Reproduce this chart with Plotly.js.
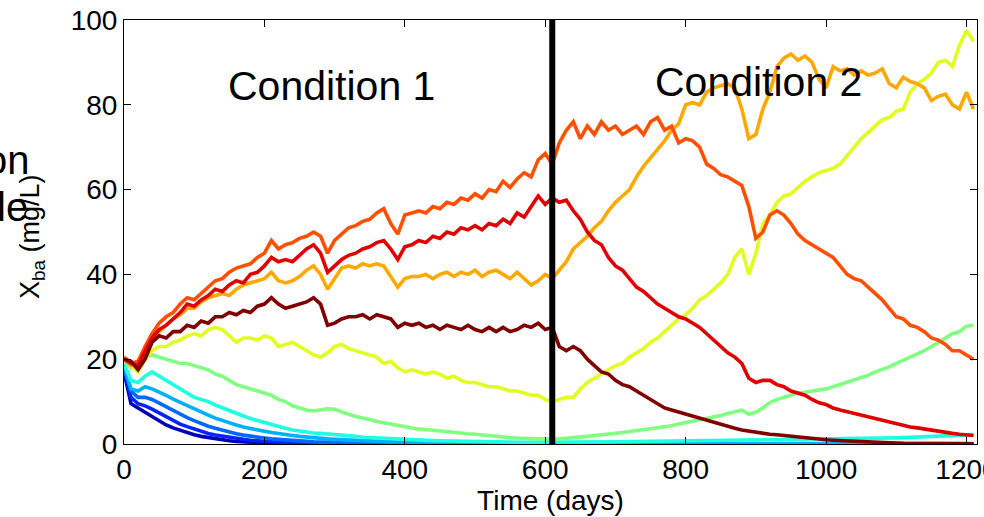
<!DOCTYPE html>
<html>
<head>
<meta charset="utf-8">
<script src="https://cdn.plot.ly/plotly-3.0.1.min.js"></script>
<style>html,body{margin:0;padding:0;background:#fff;}#chart{width:984px;height:517px;}</style>
</head>
<body>
<div id="chart"></div>
<script>
// time grid (days): 0,10,...,1210
const days = Array.from({length: 122}, (_, i) => i * 10);

const xTicks = [0, 200, 400, 600, 800, 1000, 1200];
const yTicks = [0, 20, 40, 60, 80, 100];
const switchDay = [610, 610];
const switchSpan = [0, 100];

const seriesColors = ['#0000b4', '#0024ff', '#0068ff', '#00b0ff', '#20ffe0',
                      '#80ff80', '#e0ff20', '#ffa800', '#ff5000', '#e00000', '#800000'];

const s1 = [17, 9.5, 8.5, 7.5, 6.3, 5.4, 4.5, 3.8, 3.2, 2.7,
  2.2, 1.8, 1.5, 1.2, 0.95, 0.75, 0.6, 0.48, 0.38, 0.3,
  0.24, 0.19, 0.15, 0.12, 0.1, 0.08, 0.06, 0.05, 0.04, 0.03,
  0.02, 0.02, 0.02, 0.01, 0.01, 0.01, 0.01, 0.01, 0, 0,
  0, 0, 0, 0, 0, 0, 0, 0, 0, 0,
  0, 0, 0, 0, 0, 0, 0, 0, 0, 0,
  0, 0, 0, 0, 0, 0, 0, 0, 0, 0,
  0, 0, 0, 0, 0, 0, 0, 0, 0, 0,
  0, 0, 0, 0, 0, 0, 0, 0, 0, 0,
  0, 0, 0, 0, 0, 0, 0, 0, 0, 0,
  0, 0, 0, 0, 0, 0, 0, 0, 0, 0,
  0, 0, 0, 0, 0, 0, 0, 0, 0, 0,
  0, 0];

const s2 = [17.5, 11, 9.5, 9, 8.2, 7.3, 6.3, 5.4, 4.7, 4.1,
  3.5, 3, 2.5, 2.1, 1.8, 1.5, 1.3, 1.1, 0.9, 0.75,
  0.62, 0.52, 0.43, 0.36, 0.3, 0.25, 0.21, 0.17, 0.14, 0.12,
  0.1, 0.08, 0.07, 0.06, 0.05, 0.04, 0.03, 0.03, 0.02, 0.02,
  0.02, 0.01, 0.01, 0.01, 0.01, 0, 0, 0, 0, 0,
  0, 0, 0, 0, 0, 0, 0, 0, 0, 0,
  0, 0, 0, 0, 0, 0, 0, 0, 0, 0,
  0, 0, 0, 0, 0, 0, 0, 0, 0, 0,
  0, 0, 0, 0, 0, 0, 0, 0, 0, 0,
  0, 0, 0, 0, 0, 0, 0, 0, 0, 0,
  0, 0, 0, 0, 0, 0, 0, 0, 0, 0,
  0, 0, 0, 0, 0, 0, 0, 0, 0, 0,
  0, 0];

const s3 = [18, 12.5, 11, 11, 10.5, 9.6, 8.7, 7.8, 7, 6.2,
  5.5, 4.8, 4.2, 3.7, 3.2, 2.8, 2.4, 2.1, 1.8, 1.6,
  1.4, 1.2, 1.05, 0.9, 0.8, 0.7, 0.6, 0.5, 0.45, 0.4,
  0.35, 0.3, 0.26, 0.22, 0.2, 0.17, 0.15, 0.13, 0.11, 0.1,
  0.09, 0.08, 0.07, 0.06, 0.05, 0.05, 0.04, 0.04, 0.03, 0.03,
  0.03, 0.02, 0.02, 0.02, 0.02, 0.01, 0.01, 0.01, 0.01, 0.01,
  0.01, 0.01, 0.01, 0.01, 0.01, 0.01, 0.01, 0.01, 0.01, 0.01,
  0.01, 0.01, 0.01, 0.01, 0.01, 0.01, 0.01, 0.01, 0.01, 0.01,
  0.01, 0.01, 0.01, 0.01, 0.01, 0.01, 0.01, 0.01, 0.01, 0.01,
  0.01, 0.01, 0.01, 0.01, 0.01, 0.01, 0.01, 0.01, 0.01, 0.01,
  0.01, 0.01, 0.01, 0.01, 0.01, 0.01, 0.01, 0.01, 0.01, 0.01,
  0.01, 0.01, 0.01, 0.01, 0.01, 0.01, 0.01, 0.01, 0.01, 0.01,
  0.01, 0.01];

const s4 = [18.5, 13, 12.5, 13.5, 13, 12.3, 11.5, 10.6, 9.8, 9,
  8.3, 7.5, 6.8, 6.1, 5.5, 5, 4.5, 4, 3.6, 3.3,
  3, 2.7, 2.4, 2.2, 2, 1.8, 1.6, 1.45, 1.3, 1.2,
  1.1, 1, 0.9, 0.82, 0.75, 0.68, 0.62, 0.56, 0.5, 0.46,
  0.42, 0.38, 0.35, 0.32, 0.29, 0.26, 0.24, 0.22, 0.2, 0.18,
  0.16, 0.15, 0.14, 0.13, 0.12, 0.11, 0.1, 0.1, 0.09, 0.09,
  0.08, 0.08, 0.08, 0.08, 0.08, 0.08, 0.08, 0.08, 0.08, 0.08,
  0.08, 0.08, 0.08, 0.08, 0.08, 0.08, 0.08, 0.08, 0.08, 0.08,
  0.08, 0.08, 0.08, 0.08, 0.08, 0.08, 0.08, 0.08, 0.08, 0.08,
  0.08, 0.08, 0.08, 0.08, 0.08, 0.08, 0.08, 0.08, 0.08, 0.08,
  0.08, 0.08, 0.08, 0.08, 0.08, 0.08, 0.08, 0.08, 0.08, 0.08,
  0.08, 0.08, 0.08, 0.08, 0.08, 0.08, 0.08, 0.08, 0.08, 0.08,
  0.08, 0.08];

const s5 = [19, 15, 14.5, 16, 17, 16, 15, 14, 13, 12,
  11, 10.5, 10, 9.2, 8.5, 7.8, 7.2, 6.6, 6, 5.5,
  5, 4.5, 4.1, 3.7, 3.3, 3, 2.8, 2.6, 2.5, 2.4,
  2.2, 2, 1.9, 1.8, 1.6, 1.5, 1.4, 1.3, 1.2, 1.1,
  1, 0.95, 0.9, 0.85, 0.8, 0.75, 0.7, 0.65, 0.6, 0.55,
  0.5, 0.5, 0.48, 0.46, 0.45, 0.44, 0.42, 0.41, 0.4, 0.4,
  0.4, 0.4, 0.42, 0.42, 0.44, 0.45, 0.46, 0.48, 0.5, 0.5,
  0.52, 0.54, 0.55, 0.56, 0.58, 0.6, 0.6, 0.62, 0.64, 0.65,
  0.66, 0.68, 0.7, 0.72, 0.74, 0.76, 0.78, 0.8, 0.82, 0.84,
  0.86, 0.88, 0.9, 0.92, 0.94, 0.96, 0.98, 1, 1, 1.02,
  1.05, 1.1, 1.1, 1.15, 1.2, 1.2, 1.25, 1.3, 1.35, 1.4,
  1.45, 1.5, 1.55, 1.6, 1.65, 1.7, 1.8, 1.85, 1.9, 2,
  2.1, 2.2];

const s6 = [20, 18, 19.5, 20.5, 21, 20.5, 20, 19.5, 19, 19,
  18.5, 18, 17.5, 16.5, 16, 15, 14, 13.5, 13, 12.5,
  12, 11.5, 10.5, 10, 9, 8.5, 8, 7.8, 8, 8.3,
  8.2, 7.5, 7, 6.5, 6.2, 5.8, 5.3, 5, 4.6, 4.2,
  4, 3.8, 3.5, 3.4, 3.2, 3, 2.8, 2.7, 2.6, 2.4,
  2.3, 2.1, 2, 1.8, 1.6, 1.5, 1.4, 1.3, 1.2, 1.2,
  1.1, 1.1, 1.2, 1.3, 1.5, 1.6, 1.8, 2, 2.1, 2.3,
  2.5, 2.7, 2.9, 3.1, 3.3, 3.5, 3.7, 4, 4.3, 4.7,
  5, 5.3, 5.6, 6, 6.3, 6.7, 7.2, 7.7, 8, 7,
  7.5, 8.5, 9.8, 10.5, 11, 11.5, 12, 12.2, 12.4, 12.7,
  13, 13.5, 14, 14.5, 15, 15.5, 16.2, 17, 17.5, 18.2,
  19, 19.7, 20.5, 21.3, 22, 23, 24, 25, 26, 26.5,
  27.8, 28];

const s7 = [20, 18.5, 17, 20, 22, 23, 23, 24, 24.5, 25.5,
  26, 25.5, 27, 27.5, 27, 25.5, 24, 25, 25, 24.5,
  25.5, 25, 23, 23.5, 24, 23, 22, 21, 20.5, 21.5,
  23, 23.5, 22.5, 22, 21.5, 21, 20.5, 19, 19.5, 18,
  17, 17.5, 17, 16.5, 17, 16.5, 15.5, 16, 15, 14.5,
  14.5, 14, 13.5, 13.5, 13, 12.5, 12.5, 12, 11.5, 11.5,
  10.5, 10, 10.5, 11, 11, 13, 14.5, 15.5, 16.5, 17.5,
  18.5, 19, 20.5, 21.5, 22.5, 24, 25, 26.5, 28, 29.5,
  30.5, 32, 34, 35, 36.5, 38, 40, 44, 46, 40,
  45, 52, 54, 57, 58.5, 59, 60.5, 62, 63, 64,
  64.5, 65, 66, 68, 70, 72, 73.5, 75, 76.5, 77,
  78.5, 79, 83, 85, 86, 87.5, 90, 90.5, 89, 94,
  97.5, 95];

const s8 = [20, 18.5, 19, 22, 24.5, 26.5, 28, 29.5, 30.5, 32,
  32, 33.5, 34.5, 35, 35.5, 35, 36.5, 37.5, 38, 38.5,
  39, 40.5, 38.5, 38, 38.5, 39.5, 41, 42, 40, 36.5,
  39, 41.5, 42, 41.5, 42.5, 42, 42.5, 42, 39.5, 37,
  39, 39.5, 39.5, 40, 39, 40, 40.5, 39.5, 40.5, 40,
  41, 39.5, 40.5, 41, 40, 39, 40.5, 39, 37.5, 38.5,
  40, 39, 41, 43, 46, 47.5, 49, 51, 52.5, 55,
  57, 58.5, 60, 63, 65.5, 67.5, 69.5, 71.5, 74, 75.5,
  80, 80.5, 80, 83, 84, 84.5, 85, 84, 79, 72,
  73, 79, 83, 89, 91, 92, 90.5, 91.5, 90, 86,
  84, 89, 88, 88.5, 87, 88, 87, 87.5, 88.5, 85,
  84, 86.5, 85.5, 85, 84, 81, 82, 82.5, 80, 79,
  83, 79];

const s9 = [20.5, 19, 19.5, 23, 26, 28.5, 30, 31, 33, 34.5,
  34, 35.5, 37, 38.5, 39, 40.5, 41.5, 42, 42.5, 44,
  45, 48, 46, 47, 47.5, 48.5, 49, 50, 49, 45,
  48, 49.5, 51, 51.5, 52.5, 53, 54.5, 55.5, 52, 49.5,
  54, 54.5, 55, 54.5, 56, 55.5, 57, 56.5, 58, 57.5,
  59, 58, 60, 59.5, 62, 60.5, 62.5, 64, 63, 67,
  68.5, 66, 71, 74, 76, 72, 75, 73, 76, 74,
  75, 73, 74, 75, 73, 76, 77, 74, 75, 71,
  72, 71.5, 70, 66, 65, 63.5, 63, 62, 61, 56,
  48.5, 50, 54, 55, 54, 52, 49.5, 48, 47, 46,
  45, 44, 42, 40, 39, 38.5, 37, 35.5, 34, 32,
  30, 29.5, 28, 27.5, 26.5, 25, 24.5, 23.5, 22, 22,
  21, 20];

const s10 = [20, 19, 18.5, 22, 25, 27, 28, 29.5, 31, 33,
  32.5, 34, 35, 36.5, 36, 37.5, 38.5, 38, 40, 40.5,
  42, 44, 43, 43.5, 43, 44.5, 46, 47, 45, 40.5,
  42, 43.5, 44.5, 45, 46, 46.5, 47.5, 48, 46, 43.5,
  46.5, 47, 48, 47.5, 49, 48.5, 50, 49.5, 51, 50.5,
  51.5, 50.5, 52, 51.5, 53, 52, 54.5, 53.5, 56, 58.5,
  56.5, 58, 57, 57.5, 55, 53, 50, 48, 47, 44,
  42, 41, 39, 37, 36, 34.5, 33, 32, 31, 30,
  29.5, 28.5, 27.5, 26, 24.5, 23, 21.5, 20.5, 19, 15.5,
  14.5, 15, 15, 14, 13.5, 12.5, 12, 11.5, 10.5, 9.7,
  9.3, 8.5, 8, 7.6, 7.1, 6.8, 6.4, 5.9, 5.6, 5.1,
  4.7, 4.4, 4, 3.8, 3.5, 3.2, 3, 2.8, 2.5, 2.3,
  2.1, 2];

const s11 = [20, 19.5, 17.5, 20, 24, 25.5, 25, 26.5, 26.5, 28,
  27.5, 29, 28.5, 30, 30, 31, 30.5, 31.5, 31, 32.5,
  33, 34.5, 33, 32, 32.5, 33, 33.5, 34.5, 33, 28,
  28.5, 29.5, 30, 30, 30.5, 29.5, 30.5, 30, 29.5, 27.5,
  28.5, 28, 28.5, 27.5, 28, 27, 28, 27.5, 27, 28,
  27, 26.5, 27.5, 26.5, 27.5, 26.5, 27, 28, 27.5, 28.5,
  27, 27.5, 23, 22, 23, 22, 20, 18.5, 17, 16.5,
  15, 14, 13.5, 12.5, 11.5, 10.5, 9.5, 8.5, 8, 7.5,
  7, 6.5, 6, 5.5, 5, 4.5, 4, 3.7, 3.3, 3,
  2.8, 2.5, 2.3, 2.2, 2, 1.8, 1.6, 1.5, 1.3, 1.1,
  1, 0.9, 0.8, 0.7, 0.6, 0.5, 0.4, 0.35, 0.3, 0.25,
  0.2, 0.15, 0.12, 0.1, 0.1, 0.08, 0.07, 0.06, 0.05, 0.05,
  0.04, 0.04];

const allSeries = [s1, s2, s3, s4, s5, s6, s7, s8, s9, s10, s11];

const FONT = 'Liberation Sans, Arial, Helvetica, sans-serif';

const traces = allSeries.map((ys, k) => ({
  x: days, y: ys, type: 'scatter', mode: 'lines',
  line: {color: seriesColors[k], width: 3.6},
  hoverinfo: 'skip', showlegend: false
}));
traces.push({
  x: switchDay, y: switchSpan, type: 'scatter', mode: 'lines',
  line: {color: '#000000', width: 6},
  hoverinfo: 'skip', showlegend: false, cliponaxis: false
});

const layout = {
  width: 984, height: 517,
  margin: {l: 124, r: 7, t: 20, b: 73, pad: 0},
  paper_bgcolor: '#ffffff', plot_bgcolor: '#ffffff',
  font: {family: FONT, size: 28, color: '#000'},
  showlegend: false,
  xaxis: {
    range: [0, 1215], tickvals: xTicks, ticktext: xTicks.map(String),
    ticks: 'inside', ticklen: 7, tickwidth: 1, tickcolor: '#000',
    showline: true, linecolor: '#000', linewidth: 1, mirror: 'ticks',
    showgrid: false, zeroline: false, ticklabeloverflow: 'allow',
    tickfont: {family: FONT, size: 28, color: '#000'},
    title: {text: 'Time (days)', font: {family: FONT, size: 28, color: '#000'}, standoff: 4}
  },
  yaxis: {
    range: [0, 100], tickvals: yTicks, ticktext: yTicks.map(String),
    ticks: 'inside', ticklen: 7, tickwidth: 1, tickcolor: '#000',
    showline: true, linecolor: '#000', linewidth: 1, mirror: 'ticks',
    showgrid: false, zeroline: false,
    tickfont: {family: FONT, size: 28, color: '#000'}
  },
  annotations: [
    {text: 'Condition 1', xref: 'x', yref: 'y', x: 296, y: 84.4, showarrow: false,
     font: {family: FONT, size: 41, color: '#000'}, xanchor: 'center', yanchor: 'middle'},
    {text: 'Condition 2', xref: 'x', yref: 'y', x: 904, y: 85.4, showarrow: false,
     font: {family: FONT, size: 41, color: '#000'}, xanchor: 'center', yanchor: 'middle'},
    {text: 'X<sub>ba</sub> (mg/L)', xref: 'paper', yref: 'paper', x: -0.107, y: 0.49,
     textangle: -90, showarrow: false, xanchor: 'center', yanchor: 'middle',
     font: {family: FONT, size: 27, color: '#000'}},
    {text: 'on', xref: 'paper', yref: 'paper', x: (32 - 124) / 853, y: (444 - 160) / 424,
     showarrow: false, xanchor: 'right', yanchor: 'middle',
     font: {family: FONT, size: 40, color: '#000'}},
    {text: 'le', xref: 'paper', yref: 'paper', x: (30 - 124) / 853, y: (444 - 207) / 424,
     showarrow: false, xanchor: 'right', yanchor: 'middle',
     font: {family: FONT, size: 40, color: '#000'}}
  ]
};

Plotly.newPlot('chart', traces, layout, {staticPlot: true, displayModeBar: false});
</script>
</body>
</html>
